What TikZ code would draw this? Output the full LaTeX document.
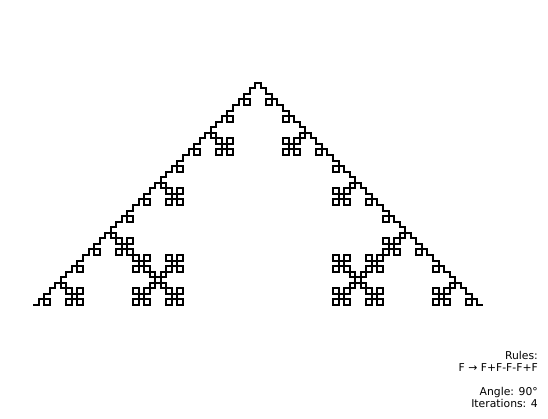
\documentclass[tikz,border=0pt]{standalone}
\usepackage{fontspec}
\setmainfont{DejaVu Sans}
\usetikzlibrary{lindenmayersystems}
\pgfdeclarelindenmayersystem{QuadKoch}{
  \rule{F -> F+F-F-F+F}
}
\tikzset{
  curve/.style={line width=2pt, line join=miter, black},
  infotext/.style={anchor=south east, inner sep=0pt, align=right, font=\fontsize{10.8pt}{12pt}\selectfont}
}
\begin{document}
\begin{tikzpicture}[x=1pt,y=1pt]
\useasboundingbox (0,0) rectangle (548,418);
\begin{scope}[shift={(33,113)}]
\coordinate (start) at (0,0);
\draw[curve, lindenmayer system={QuadKoch, axiom=F, order=4, angle=90, step=5.5556pt}]
  (start) lindenmayer system;
\end{scope}
\node[infotext] (info) at (538,10) {Rules:\\F → F+F-F-F+F\\[12pt]Angle: 90°\\Iterations: 4};
\end{tikzpicture}
\end{document}
